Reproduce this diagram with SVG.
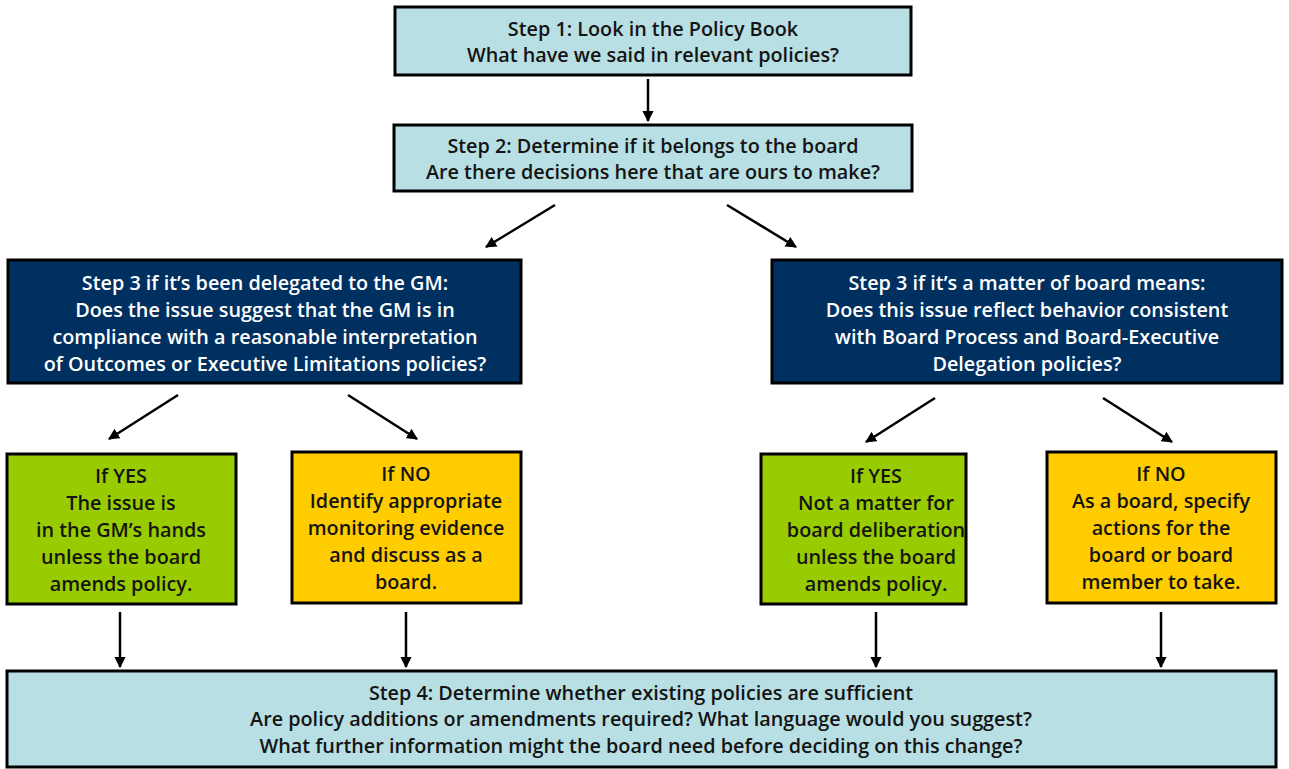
<svg xmlns="http://www.w3.org/2000/svg" width="1289" height="769" viewBox="0 0 1289 769">
<defs>
<marker id="ah" viewBox="0 0 10 10" refX="9" refY="5" markerWidth="4.5" markerHeight="4.5" orient="auto" markerUnits="strokeWidth">
<path d="M0,0 L10,5 L0,10 z" fill="#000"/>
</marker>
</defs>
<style>
.box{stroke:#000;stroke-width:3}
.blue{fill:#B8DFE3}
.navy{fill:#00305F}
.green{fill:#99CC00}
.yellow{fill:#FFCC00}
text{font-family:"Open Sans","Liberation Sans",sans-serif;font-weight:600;font-size:19.8px;text-anchor:middle;fill:#141414}
.w{fill:#fff}
.conn line{stroke:#000;stroke-width:2.5;marker-end:url(#ah)}
</style>
<rect width="1289" height="769" fill="#fff"/>
<g id="step1">
<rect class="box blue" x="395" y="7" width="516" height="68"/>
<text x="653" y="36">Step 1: Look in the Policy Book</text>
<text x="653" y="62">What have we said in relevant policies?</text>
</g>
<g id="step2">
<rect class="box blue" x="394" y="125" width="518" height="66"/>
<text x="653" y="153">Step 2: Determine if it belongs to the board</text>
<text x="653" y="179">Are there decisions here that are ours to make?</text>
</g>
<g id="step3-gm">
<rect class="box navy" x="8" y="260" width="513" height="123"/>
<text class="w" x="265" y="290">Step 3 if it’s been delegated to the GM:</text>
<text class="w" x="265" y="317">Does the issue suggest that the GM is in</text>
<text class="w" x="265" y="344">compliance with a reasonable interpretation</text>
<text class="w" x="265" y="371">of Outcomes or Executive Limitations policies?</text>
</g>
<g id="step3-board">
<rect class="box navy" x="772" y="260" width="510" height="123"/>
<text class="w" x="1027" y="290">Step 3 if it’s a matter of board means:</text>
<text class="w" x="1027" y="317">Does this issue reflect behavior consistent</text>
<text class="w" x="1027" y="344">with Board Process and Board-Executive</text>
<text class="w" x="1027" y="371">Delegation policies?</text>
</g>
<g id="gm-yes">
<rect class="box green" x="7" y="454" width="229" height="150"/>
<text x="121" y="483">If YES</text>
<text x="121" y="510">The issue is</text>
<text x="121" y="537">in the GM’s hands</text>
<text x="121" y="564">unless the board</text>
<text x="121" y="591">amends policy.</text>
</g>
<g id="gm-no">
<rect class="box yellow" x="292" y="452" width="229" height="151"/>
<text x="406" y="481">If NO</text>
<text x="406" y="508">Identify appropriate</text>
<text x="406" y="535">monitoring evidence</text>
<text x="406" y="562">and discuss as a</text>
<text x="406" y="589">board.</text>
</g>
<g id="board-yes">
<rect class="box green" x="761" y="454" width="205" height="150"/>
<text x="876" y="483">If YES</text>
<text x="876" y="510">Not a matter for</text>
<text x="876" y="537">board deliberation</text>
<text x="876" y="564">unless the board</text>
<text x="876" y="591">amends policy.</text>
</g>
<g id="board-no">
<rect class="box yellow" x="1047" y="452" width="229" height="151"/>
<text x="1161" y="481">If NO</text>
<text x="1161" y="508">As a board, specify</text>
<text x="1161" y="535">actions for the</text>
<text x="1161" y="562">board or board</text>
<text x="1161" y="589">member to take.</text>
</g>
<g id="step4">
<rect class="box blue" x="7" y="671" width="1269" height="96"/>
<text x="641" y="700">Step 4: Determine whether existing policies are sufficient</text>
<text x="641" y="726">Are policy additions or amendments required? What language would you suggest?</text>
<text x="641" y="753">What further information might the board need before deciding on this change?</text>
</g>
<g id="connectors" class="conn">
<line x1="648" y1="79" x2="648" y2="121"/>
<line x1="555" y1="205" x2="486" y2="247"/>
<line x1="727" y1="205" x2="796" y2="247"/>
<line x1="178" y1="395" x2="109" y2="439"/>
<line x1="348" y1="395" x2="417" y2="439"/>
<line x1="935" y1="398" x2="866" y2="442"/>
<line x1="1103" y1="398" x2="1172" y2="442"/>
<line x1="120" y1="612" x2="120" y2="667"/>
<line x1="406" y1="612" x2="406" y2="667"/>
<line x1="876" y1="612" x2="876" y2="667"/>
<line x1="1161" y1="612" x2="1161" y2="667"/>
</g>
</svg>
